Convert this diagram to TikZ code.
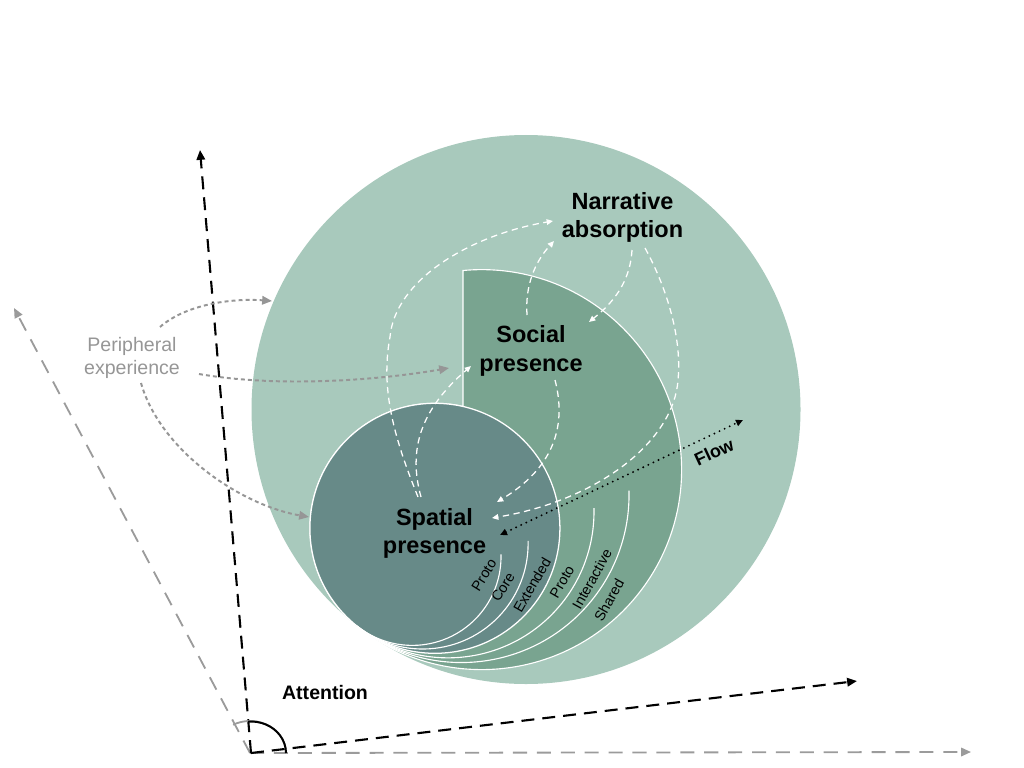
\documentclass[tikz,border=0pt]{standalone}
\usepackage{fontspec}
\setmainfont{Liberation Sans}
\usetikzlibrary{arrows.meta,calc}
\definecolor{bigc}{RGB}{168,201,188}
\definecolor{socc}{RGB}{121,164,144}
\definecolor{spac}{RGB}{103,138,136}
\definecolor{pgray}{RGB}{150,150,150}
\definecolor{agray}{RGB}{155,155,155}
\begin{document}
\begin{tikzpicture}[x=0.025cm,y=-0.025cm,
  mainlbl/.style={font=\fontsize{16.7pt}{20.1pt}\selectfont\bfseries, align=center, text=black, inner sep=0pt},
  periph/.style={font=\fontsize{13.9pt}{16.6pt}\selectfont, text=pgray, align=center, inner sep=0pt},
  attn/.style={font=\fontsize{13.9pt}{16pt}\selectfont\bfseries, inner sep=0pt},
  flowlbl/.style={font=\fontsize{12.8pt}{15pt}\selectfont\bfseries, inner sep=0pt},
  band/.style={font=\fontsize{10.2pt}{11pt}\selectfont, inner sep=0pt},
  bandline/.style={draw=white, line width=0.8pt},
  blackaxis/.style={draw=black, line width=1.5pt, dash pattern=on 9.2pt off 5.7pt, -{Triangle[length=7pt,width=6pt]}},
  grayaxis/.style={draw=agray, line width=1.3pt, dash pattern=on 10pt off 7pt, -{Triangle[length=7pt,width=6pt]}},
  periarrow/.style={draw=pgray, line width=1.4pt, dash pattern=on 2.8pt off 2.2pt, -{Triangle[length=7pt,width=6pt]}},
  whitearrow/.style={draw=white, line width=0.9pt, dash pattern=on 4.5pt off 3.2pt, -{Triangle[length=4.5pt,width=4pt]}},
  flowarrow/.style={draw=black, line width=1.5pt, dash pattern=on 0pt off 4pt, line cap=round, {Triangle[length=5pt,width=4.5pt]}-{Triangle[length=5pt,width=4.5pt]}}
]
\useasboundingbox (0,0) rectangle (1024,768);

% big circle
\fill[bigc] (526,409.5) circle[radius=274.5];

% social presence sector
\coordinate (T) at (357.1,626.1);
\filldraw[fill=socc, draw=white, line width=0.8pt]
  (463,406.5) -- (463,270.5) arc[start angle=-95.34, end angle=128.5, radius=200]
  arc[start angle=128.5, end angle=283, radius=125] -- cycle;
\draw[bandline] (T) arc[start angle=128.5, end angle=-1.5, radius=146];
\draw[bandline] (T) arc[start angle=128.5, end angle=-1.5, radius=167.6];

% spatial presence circle
\filldraw[fill=spac, draw=white, line width=0.9pt] (434.9,528.3) circle[radius=125];
\draw[bandline] (T) arc[start angle=128.5, end angle=-1.5, radius=88.7];
\draw[bandline] (T) arc[start angle=128.5, end angle=-1.5, radius=105.4];

% axes
\coordinate (O) at (251,753);
\coordinate (BV) at (200,150);
\coordinate (BH) at (857,681);
\coordinate (GO) at (250,753);
\coordinate (GV) at (14,308);
\coordinate (GH) at (971,752);
\draw[grayaxis] (GO) -- (GV);
\draw[grayaxis] (GO) -- (GH);
\draw[blackaxis] (O) -- (BV);
\draw[blackaxis] (O) -- (BH);
\draw[agray, line width=1.3pt] (GO) ++(-118:36 and 32) arc[start angle=-118, end angle=0, x radius=36, y radius=32];
\draw[black, line width=1.4pt] (O) ++(-95:35 and 31.5) arc[start angle=-95, end angle=0, x radius=35, y radius=31.5];

% labels
\node[mainlbl] (narr) at (622.5,217.5) {Narrative\\absorption};
\node[mainlbl] (soc) at (531,351) {Social\\presence};
\node[mainlbl] (spa) at (434.5,533.5) {Spatial\\presence};
\node[periph] (per) at (132,358) {Peripheral\\experience};
\node[attn] (att) at (325,693) {Attention};
\node[flowlbl, rotate=25] (flow) at (714,452) {Flow};

\node[band, rotate=58] (b1) at (484,575) {Proto};
\node[band, rotate=58] (b2) at (503,587) {Core};
\node[band, rotate=60] (b3) at (532,585) {Extended};
\node[band, rotate=60] (b4) at (562,582) {Proto};
\node[band, rotate=61] (b5) at (592,579) {Interactive};
\node[band, rotate=61] (b6) at (609,600) {Shared};

% peripheral arrows
\coordinate (p1s) at (160,327); \coordinate (p1e) at (272,301);
\coordinate (p2s) at (199,374); \coordinate (p2e) at (449,368);
\coordinate (p3s) at (141,383); \coordinate (p3e) at (309,517);
\draw[periarrow] (p1s) .. controls (185,305) and (230,298) .. (p1e);
\draw[periarrow] (p2s) .. controls (280,388) and (380,380) .. (p2e);
\draw[periarrow] (p3s) .. controls (160,450) and (240,505) .. (p3e);

% white dashed arrows
\coordinate (aS) at (418,497); \coordinate (aM) at (390,337); \coordinate (aE) at (553,221);
\draw[whitearrow] (aS) .. controls (395,440) and (380,390) .. (aM) .. controls (395,280) and (470,235) .. (aE);
\coordinate (bS) at (421,497); \coordinate (bE) at (471,366);
\draw[whitearrow] (bS) .. controls (408,450) and (420,410) .. (bE);
\coordinate (cS) at (527,315); \coordinate (cE) at (554,241);
\draw[whitearrow] (cS) .. controls (525,285) and (535,262) .. (cE);
\coordinate (dS) at (632,250); \coordinate (dE) at (589,322);
\draw[whitearrow] (dS) .. controls (630,285) and (610,305) .. (dE);
\coordinate (eS) at (645,248); \coordinate (eM) at (678,380); \coordinate (eE) at (492,518);
\draw[whitearrow] (eS) .. controls (668,290) and (682,340) .. (eM) .. controls (674,440) and (600,500) .. (eE);
\coordinate (fS) at (555,380); \coordinate (fE) at (497,502);
\draw[whitearrow] (fS) .. controls (568,430) and (550,470) .. (fE);

% flow arrow
\coordinate (fl1) at (500,535); \coordinate (fl2) at (743,420);
\draw[flowarrow] (fl1) -- (fl2);
\end{tikzpicture}
\end{document}
